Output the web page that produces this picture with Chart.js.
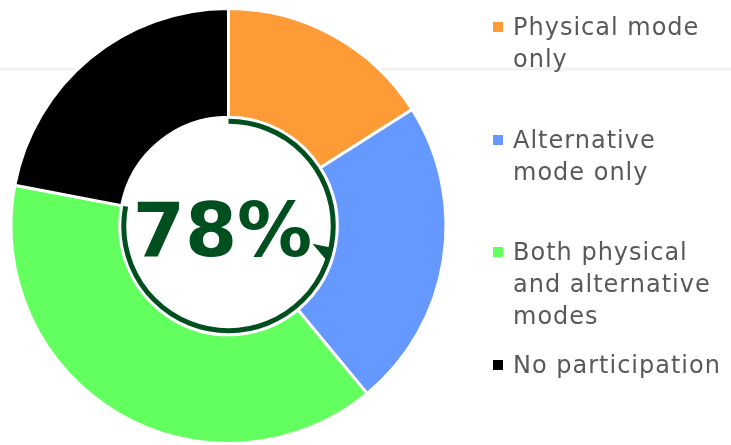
<!DOCTYPE html>
<html>
<head>
<meta charset="utf-8">
<script src="https://cdn.jsdelivr.net/npm/chart.js@4.4.1/dist/chart.umd.min.js"></script>
<style>
  html, body { margin: 0; padding: 0; background: #fff; }
  #wrap { position: relative; width: 731px; height: 445px; overflow: hidden; }
  #chart { position: absolute; left: 0; top: 0; }
  #legend {
    position: absolute; left: 493px; top: 11px;
    font-family: 'DejaVu Sans', sans-serif; font-size: 24px;
    color: #595959; letter-spacing: 1px;
  }
  .item { position: relative; height: 112.7px; padding-left: 20px; line-height: 32px; white-space: nowrap; }
  .box { position: absolute; left: 0; top: 11px; width: 10px; height: 10px; }
</style>
</head>
<body>
<div id="wrap">
  <canvas id="chart" width="731" height="445"></canvas>
  <div id="legend"></div>
</div>
<script>
// Participation by mode (% of respondents)
const categories = [
    ['Physical mode', 'only'],
    ['Alternative', 'mode only'],
    ['Both physical', 'and alternative', 'modes'],
    ['No participation']
];
const shares = [16, 23, 39, 22];

const sliceColors = ['#FF9B37', '#6699FF', '#62FF5F', '#000000'];
const ringColor = '#00501F';

// anyone who took part in some mode
const participation = shares[0] + shares[1] + shares[2];

function buildLegend() {
    const legend = document.getElementById('legend');
    legend.innerHTML = categories.map((lines, i) => `
        <div class="item">
            <span class="box" style="background:${sliceColors[i]}"></span>
            ${lines.join('<br>')}
        </div>`).join('');
}

const centerPlugin = {
    id: 'centerRing',
    beforeDatasetsDraw(chart) {
        // faint guide line behind the chart
        const ctx = chart.ctx;
        ctx.save();
        ctx.strokeStyle = '#f2f2f2';
        ctx.lineWidth = 3;
        ctx.beginPath();
        ctx.moveTo(0, 69);
        ctx.lineTo(chart.width, 69);
        ctx.stroke();
        ctx.restore();
    },
    afterDatasetsDraw(chart) {
        const ctx = chart.ctx;
        const arc = chart.getDatasetMeta(0).data[0];
        const { x, y, innerRadius } = arc.getProps(['x', 'y', 'innerRadius'], true);
        const r = innerRadius - 4;
        const start = -Math.PI / 2;

        ctx.save();
        ctx.strokeStyle = ringColor;
        ctx.fillStyle = ringColor;
        ctx.lineWidth = 5;
        ctx.beginPath();
        ctx.arc(x, y, r, start, start + participation / 100 * 2 * Math.PI);
        ctx.stroke();

        // small arrow head on the right side of the ring
        const a = start + 0.283 * 2 * Math.PI;
        const tip = a + 8 * Math.PI / 180;
        ctx.beginPath();
        ctx.moveTo(x + (r + 2) * Math.cos(a), y + (r + 2) * Math.sin(a));
        ctx.lineTo(x + (r - 19) * Math.cos(a), y + (r - 19) * Math.sin(a));
        ctx.lineTo(x + (r + 1) * Math.cos(tip), y + (r + 1) * Math.sin(tip));
        ctx.closePath();
        ctx.fill();

        ctx.font = 'bold 75px "DejaVu Sans"';
        ctx.textAlign = 'center';
        ctx.textBaseline = 'alphabetic';
        ctx.fillText(participation + '%', x - 6, y + 30);
        ctx.restore();
    }
};

buildLegend();

new Chart(document.getElementById('chart'), {
    type: 'doughnut',
    data: {
        labels: categories,
        datasets: [{
            data: shares,
            backgroundColor: sliceColors,
            borderColor: '#ffffff',
            borderWidth: 3
        }]
    },
    options: {
        responsive: false,
        animation: false,
        cutout: '50%',
        layout: { padding: { left: 8, top: 7, right: 282, bottom: -3 } },
        plugins: {
            legend: { display: false },
            tooltip: { enabled: false }
        }
    },
    plugins: [centerPlugin]
});
</script>
</body>
</html>
